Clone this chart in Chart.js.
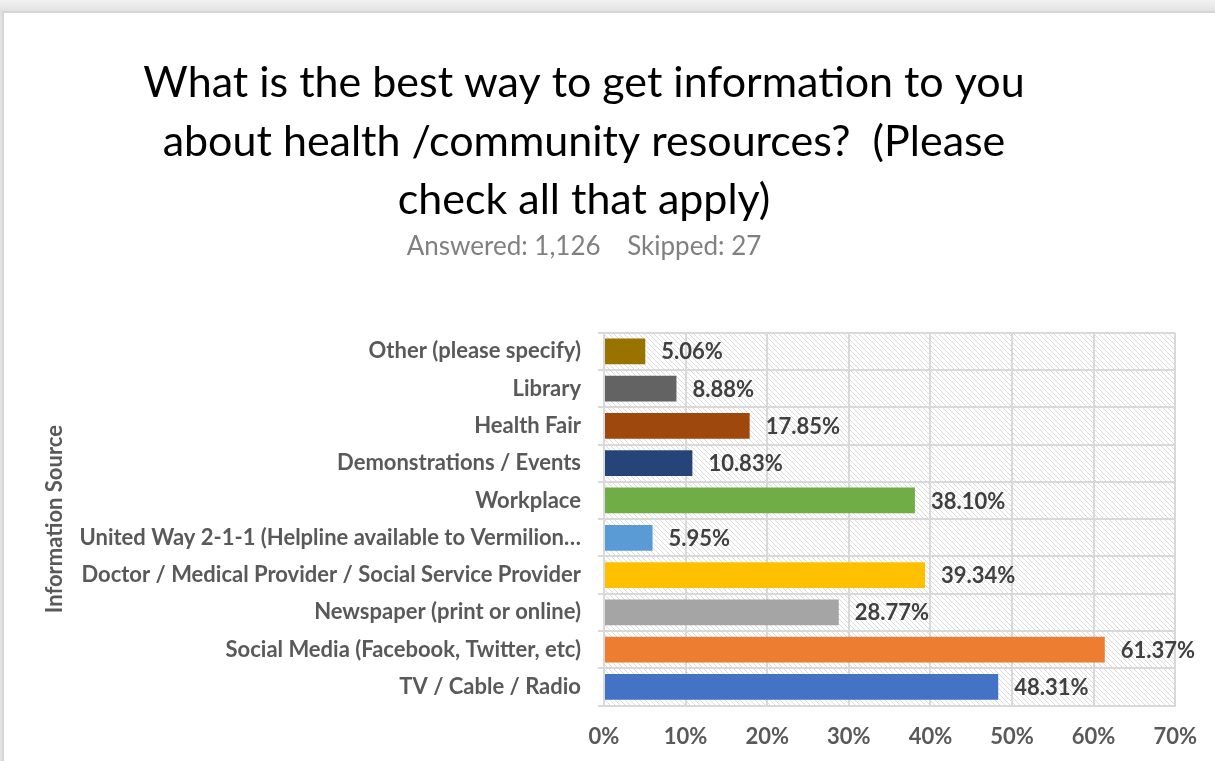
<!DOCTYPE html>
<html lang="en">
<head>
    <meta charset="UTF-8">
    <title>Information Source</title>
    <script src="https://cdn.jsdelivr.net/npm/chart.js"></script>
    <style>
        html, body { margin: 0; padding: 0; }
        body { width: 1215px; height: 761px; overflow: hidden; background: linear-gradient(#f2f2f2, #e2e2e2 11px); position: relative; }
        .panel { position: absolute; left: 2px; top: 11px; right: -5px; bottom: -5px; background: #fff; border-left: 2px solid #d6d6d6; border-top: 2px solid #d6d6d6; }
        #chart { position: absolute; left: 0; top: 0; }
    </style>
</head>
<body>
    <div class="panel"></div>
    <canvas id="chart" width="1215" height="761"></canvas>

    <script>
        // Categories, top to bottom
        const labels = [
            'Other (please specify)',
            'Library',
            'Health Fair',
            'Demonstrations / Events',
            'Workplace',
            'United Way 2-1-1 (Helpline available to Vermilion…',
            'Doctor / Medical Provider / Social Service Provider',
            'Newspaper (print or online)',
            'Social Media (Facebook, Twitter, etc)',
            'TV / Cable / Radio'
        ];
        const values = [5.06, 8.88, 17.85, 10.83, 38.10, 5.95, 39.34, 28.77, 61.37, 48.31];
        const barColors = ['#997300', '#636363', '#9e480e', '#264478', '#70ad47', '#5b9bd5', '#ffc000', '#a5a5a5', '#ed7d31', '#4472c4'];
        const xTicks = [0, 10, 20, 30, 40, 50, 60, 70];

        const FONT = 'Lato, "Open Sans", sans-serif';

        // hatched plot background
        function hatch() {
            const c = document.createElement('canvas');
            c.width = 5; c.height = 5;
            const g = c.getContext('2d');
            g.fillStyle = '#fff';
            g.fillRect(0, 0, 5, 5);
            g.strokeStyle = '#dcdcdc';
            g.lineWidth = 1;
            g.beginPath();
            g.moveTo(-1, -1); g.lineTo(6, 6);
            g.moveTo(-1, 4); g.lineTo(1, 6);
            g.moveTo(4, -1); g.lineTo(6, 1);
            g.stroke();
            return g.createPattern(c, 'repeat');
        }

        const plotBg = {
            id: 'plotBg',
            // headings sit left of the page centre in the original
            afterLayout(chart) {
                chart.boxes.forEach(b => {
                    if (b.options && b.options.text !== undefined && b.position === 'top') {
                        b.left -= 30;
                        b.right -= 30;
                    }
                });
            },
            beforeDraw(chart) {
                const { ctx, chartArea: a } = chart;
                ctx.save();
                ctx.fillStyle = hatch();
                ctx.fillRect(a.left, a.top, a.right - a.left, a.bottom - a.top);
                ctx.restore();
            }
        };

        const valueLabels = {
            id: 'valueLabels',
            afterDatasetsDraw(chart) {
                const ctx = chart.ctx;
                ctx.save();
                ctx.font = 'bold 22px ' + FONT;
                ctx.fillStyle = '#404040';
                ctx.textBaseline = 'middle';
                chart.getDatasetMeta(0).data.forEach((bar, i) => {
                    ctx.fillText(values[i].toFixed(2) + '%', bar.x + 16, bar.y + 1);
                });
                ctx.restore();
            }
        };

        new Chart(document.getElementById('chart'), {
            type: 'bar',
            data: {
                labels: labels,
                datasets: [{
                    data: values,
                    backgroundColor: barColors,
                    categoryPercentage: 1,
                    barPercentage: 0.69
                }]
            },
            options: {
                indexAxis: 'y',
                responsive: false,
                animation: false,
                layout: { padding: { left: 42, right: 29, top: 0, bottom: -7 } },
                plugins: {
                    legend: { display: false },
                    tooltip: { enabled: false },
                    title: {
                        display: true,
                        text: ['What is the best way to get information to you', 'about health /community resources?  (Please', 'check all that apply)'],
                        color: '#000',
                        font: { family: FONT, size: 43, weight: 'normal', lineHeight: 1.36 },
                        padding: { top: 54, bottom: 2 }
                    },
                    subtitle: {
                        display: true,
                        text: 'Answered: 1,126    Skipped: 27',
                        color: '#808080',
                        font: { family: FONT, size: 26, lineHeight: 1.2 },
                        padding: { top: 0, bottom: 70 }
                    }
                },
                scales: {
                    x: {
                        min: 0,
                        max: 70,
                        afterBuildTicks(scale) { scale.ticks = xTicks.map(v => ({ value: v })); },
                        ticks: {
                            callback: v => v + '%',
                            color: '#595959',
                            font: { family: FONT, size: 22, weight: 'bold' },
                            padding: 18
                        },
                        grid: { color: '#d9d9d9', lineWidth: 2, drawTicks: false },
                        border: { color: '#d9d9d9', width: 2 }
                    },
                    y: {
                        afterFit(scale) { scale.width = 604 - 42; },
                        ticks: {
                            color: '#595959',
                            font: { family: FONT, size: 22, weight: 'bold' },
                            padding: 17,
                            autoSkip: false
                        },
                        grid: { color: '#d9d9d9', lineWidth: 2, tickLength: 6 },
                        border: { color: '#d9d9d9', width: 2 },
                        title: {
                            display: true,
                            text: 'Information Source',
                            color: '#595959',
                            font: { family: FONT, size: 22, weight: 'bold' },
                            padding: 0
                        }
                    }
                }
            },
            plugins: [plotBg, valueLabels]
        });
    </script>
</body>
</html>
